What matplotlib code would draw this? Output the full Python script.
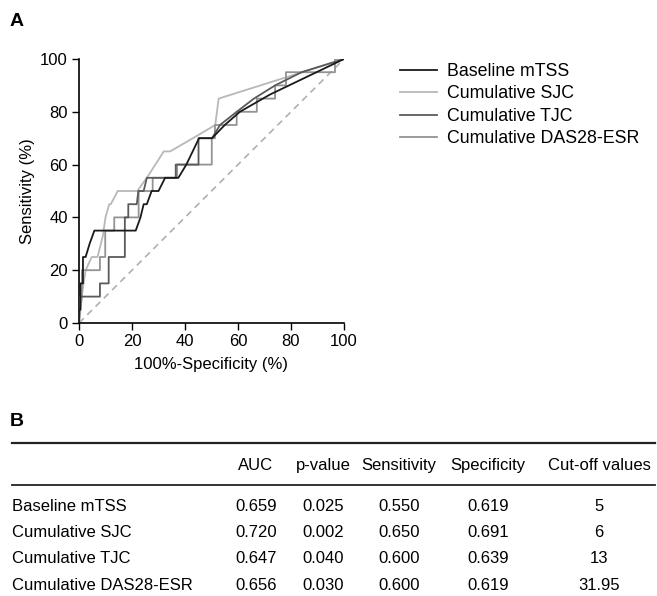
import matplotlib
matplotlib.use("Agg")
import matplotlib.pyplot as plt
from matplotlib.lines import Line2D

plt.rcParams['font.family'] = ['Liberation Sans', 'DejaVu Sans']

# ROC curves (100%-specificity, sensitivity), in %
mtss_x = [0, 0, 0.5, 0.5, 1.5, 1.5, 2.5, 4, 5.8, 21.4, 23.2, 24.4, 25.6, 27.4, 30, 32.5, 37.5, 40.5, 45.3, 50.2, 55, 60.7, 72, 100]
mtss_y = [0, 5, 5, 15, 15, 25, 25, 30, 35, 35, 40, 45, 45, 50, 50, 55, 55, 60, 70, 70, 75, 80, 86.5, 100]

sjc_x = [0, 0.5, 1, 2.5, 4.8, 7, 9, 10, 11.4, 12, 14.6, 22, 25.6, 32, 34.4, 43, 51.4, 52.7, 100]
sjc_y = [0, 5, 10, 20, 25, 25, 33, 40, 45, 45, 50, 50, 55, 65, 65, 70, 75, 85, 100]

tjc_x = [0, 0, 7.9, 7.9, 11.2, 11.2, 17.3, 17.3, 18.6, 18.6, 21.8, 22.4, 24.4, 25.6, 36.5, 36.5, 45.1, 45.1, 50.2, 53.2, 59.5, 66, 74, 84, 100]
tjc_y = [0, 10, 10, 15, 15, 25, 25, 40, 40, 45, 45, 50, 50, 55, 55, 60, 60, 70, 70, 75, 80, 85, 90, 95, 100]

das_x = [0, 1.1, 1.1, 7.9, 7.9, 9.9, 9.9, 13.3, 13.3, 22.5, 22.5, 27.8, 27.8, 37, 37, 50.1, 50.1, 51.3, 51.3, 59.5, 59.5, 67.1, 67.1, 74, 74, 78.1, 78.1, 96.6, 96.6, 100]
das_y = [0, 10, 20, 20, 25, 25, 35, 35, 40, 40, 50, 50, 55, 55, 60, 60, 70, 70, 75, 75, 80, 80, 85, 85, 90, 90, 95, 95, 100, 100]

series_names = ["Baseline mTSS", "Cumulative SJC", "Cumulative TJC", "Cumulative DAS28-ESR"]
series_colors = ["#1a1a1a", "#b8b8b8", "#5a5a5a", "#939393"]

xticks = [0, 20, 40, 60, 80, 100]
yticks = [0, 20, 40, 60, 80, 100]

# Table
col_headers = ["AUC", "p-value", "Sensitivity", "Specificity", "Cut-off values"]
row_labels = ["Baseline mTSS", "Cumulative SJC", "Cumulative TJC", "Cumulative DAS28-ESR"]
auc = ["0.659", "0.720", "0.647", "0.656"]
pval = ["0.025", "0.002", "0.040", "0.030"]
sens = ["0.550", "0.650", "0.600", "0.600"]
spec = ["0.619", "0.691", "0.639", "0.619"]
cutoff = ["5", "6", "13", "31.95"]

W, H = 657, 596
fig = plt.figure(figsize=(W / 100, H / 100), dpi=100)

def fx(px):
    return px / W

def fy(py):
    return 1 - py / H

ax = fig.add_axes([fx(79), fy(323), (344 - 79) / W, (323 - 59) / H])
ax.plot([0, 100], [0, 100], ls=(0, (4, 3)), color="#b0b0b0", lw=1.2, zorder=1)
curves = [(mtss_x, mtss_y), (sjc_x, sjc_y), (tjc_x, tjc_y), (das_x, das_y)]
order = [1, 3, 2, 0]
for z, i in enumerate(order):
    x, y = curves[i]
    ax.plot(x, y, color=series_colors[i], lw=1.3, zorder=2 + z)

ax.set_xlim(0, 100)
ax.set_ylim(0, 100)
ax.set_xticks(xticks)
ax.set_yticks(yticks)
ax.tick_params(direction="out", length=5, width=1, labelsize=12, color="black", pad=3)
for s in ["top", "right"]:
    ax.spines[s].set_visible(False)
for s in ["left", "bottom"]:
    ax.spines[s].set_linewidth(1.2)
ax.set_xlabel("100%-Specificity (%)", fontsize=12, labelpad=6)
ax.set_ylabel("Sensitivity (%)", fontsize=12, labelpad=4)

handles = [Line2D([0], [0], color=c, lw=1.3) for c in series_colors]
fig.legend(handles, series_names, loc="upper left", bbox_to_anchor=(fx(393), fy(56)),
           frameon=False, fontsize=12.8, handlelength=2.1, handletextpad=0.55,
           labelspacing=0.3, borderaxespad=0)

fig.text(fx(10), fy(21), "A", fontsize=14, fontweight="bold", va="center", ha="left")
fig.text(fx(10), fy(421), "B", fontsize=14, fontweight="bold", va="center", ha="left")

# table rules
fig.add_artist(Line2D([fx(12), fx(655)], [fy(443), fy(443)], color="#222222", lw=1.6))
fig.add_artist(Line2D([fx(12), fx(655)], [fy(485), fy(485)], color="#222222", lw=1.3))

col_x = [256, 323, 399, 488, 599]
fs = 12
for cx, h in zip(col_x, col_headers):
    fig.text(fx(cx), fy(470), h, fontsize=fs, ha="center", va="baseline")
row_y = [511, 537, 563, 590]
cols = [auc, pval, sens, spec, cutoff]
for r, ry in enumerate(row_y):
    fig.text(fx(12), fy(ry), row_labels[r], fontsize=fs, ha="left", va="baseline")
    for cx, col in zip(col_x, cols):
        fig.text(fx(cx), fy(ry), col[r], fontsize=fs, ha="center", va="baseline")

fig.savefig("out.png", dpi=100)
